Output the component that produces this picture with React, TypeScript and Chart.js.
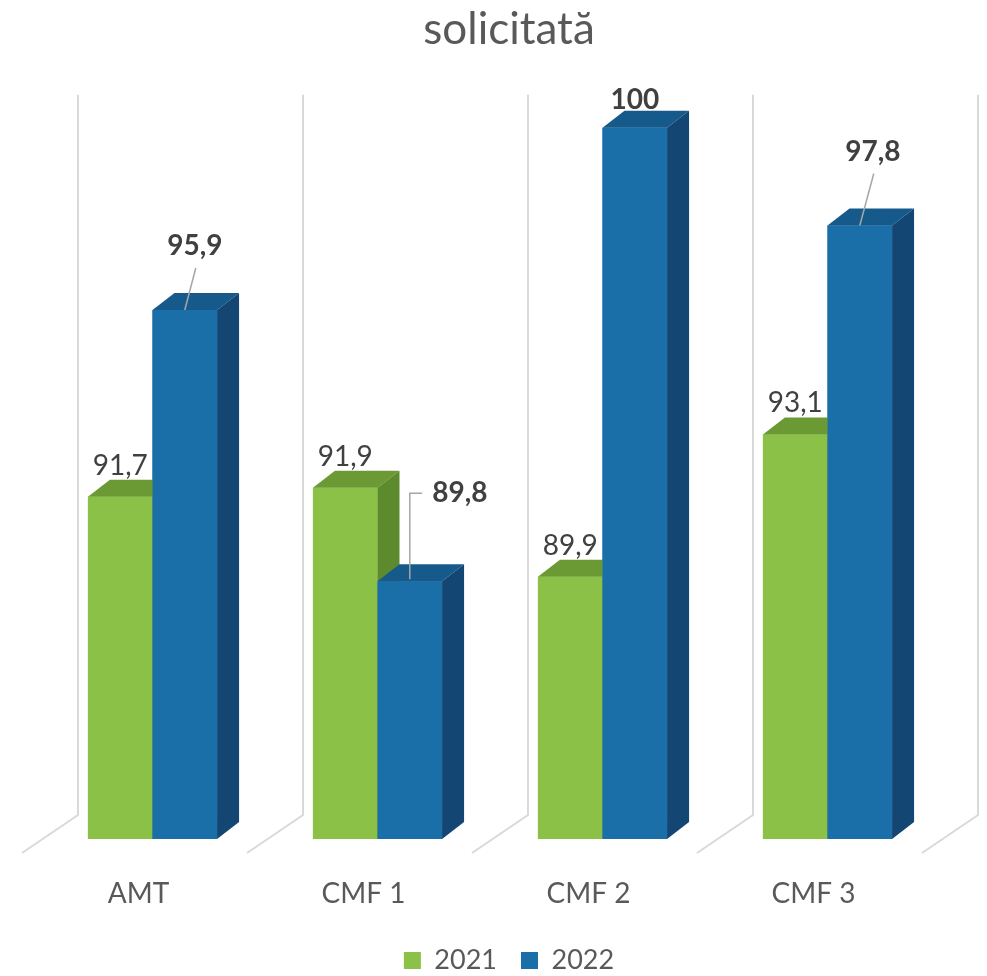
import React, { useEffect, useRef } from "react";
import { Chart, registerables } from "chart.js";

Chart.register(...registerables);

// ---- data ----
const categories = ["AMT", "CMF 1", "CMF 2", "CMF 3"];
const seriesNames = ["2021", "2022"];
const values2021 = [91.7, 91.9, 89.9, 93.1];
const values2022 = [95.9, 89.8, 100, 97.8];
const yMin = 84;
const yMax = 100.2;

// ---- style ----
const FONT = "Lato, 'Open Sans', sans-serif";
const FRONT = ["#8BC147", "#1B6FA8"];
const TOP = ["#6B9A35", "#165A8C"];
const SIDE = ["#5C8A2C", "#134672"];
const DEPTH = { dx: 22, dy: -17 };
const WALL = { backDx: 38, backDy: -24, frontDx: -18, frontDy: 14 };
// label placement for the 2022 series (relative to the front-top centre of each bar)
const LABEL22 = [
  { dx: 10, dy: -64, leader: "line" },
  { dx: 50, dy: -88, leader: "elbow" },
  { dx: 0, dy: -28, leader: "none" },
  { dx: 13, dy: -74, leader: "line" },
];

const fmt = (v: number) => String(v).replace(".", ",");

const poly = (ctx: CanvasRenderingContext2D, pts: number[][], fill: string) => {
  ctx.beginPath();
  ctx.moveTo(pts[0][0], pts[0][1]);
  for (let i = 1; i < pts.length; i++) ctx.lineTo(pts[i][0], pts[i][1]);
  ctx.closePath();
  ctx.fillStyle = fill;
  ctx.fill();
};

const threeD = {
  id: "threeD",
  beforeDatasetsDraw(chart: any) {
    const { ctx, chartArea } = chart;
    const x = chart.scales.x;
    const n = categories.length;
    const step = x.getPixelForValue(1) - x.getPixelForValue(0);
    ctx.save();
    ctx.strokeStyle = "#D9D9D9";
    ctx.lineWidth = 2;
    for (let i = 0; i <= n; i++) {
      const xb = x.getPixelForValue(0) - step / 2 + i * step;
      ctx.beginPath();
      ctx.moveTo(xb + WALL.backDx, chartArea.top + WALL.backDy);
      ctx.lineTo(xb + WALL.backDx, chartArea.bottom + WALL.backDy);
      ctx.lineTo(xb + WALL.frontDx, chartArea.bottom + WALL.frontDy);
      ctx.stroke();
    }
    ctx.restore();
  },
  afterDatasetsDraw(chart: any) {
    const { ctx, chartArea } = chart;
    ctx.save();
    // 3D boxes, drawn series by series (front, top, side) so that later series overlap earlier ones
    [0, 1].forEach((i) => {
      chart.getDatasetMeta(i).data.forEach((bar: any) => {
        const { x, y, base, width } = bar.getProps(["x", "y", "base", "width"], true);
        const b = Math.min(base, chartArea.bottom);
        const l = x - width / 2;
        const r = x + width / 2;
        poly(ctx, [[l, y], [r, y], [r, b], [l, b]], FRONT[i]);
        poly(ctx, [[l, y], [l + DEPTH.dx, y + DEPTH.dy], [r + DEPTH.dx, y + DEPTH.dy], [r, y]], TOP[i]);
        poly(ctx, [[r, y], [r + DEPTH.dx, y + DEPTH.dy], [r + DEPTH.dx, b + DEPTH.dy], [r, b]], SIDE[i]);
      });
    });

    ctx.textAlign = "center";
    ctx.textBaseline = "middle";
    // 2021 labels
    const m0 = chart.getDatasetMeta(0);
    ctx.fillStyle = "#404040";
    ctx.font = `normal 28px ${FONT}`;
    m0.data.forEach((bar: any, j: number) => {
      ctx.fillText(fmt(values2021[j]), bar.x, bar.y - 31);
    });
    // 2022 labels
    const m1 = chart.getDatasetMeta(1);
    ctx.font = `bold 28px ${FONT}`;
    m1.data.forEach((bar: any, j: number) => {
      const p = LABEL22[j];
      const lx = bar.x + p.dx;
      const ly = bar.y + p.dy;
      const text = fmt(values2022[j]);
      const w = ctx.measureText(text).width;
      ctx.strokeStyle = "#A6A6A6";
      ctx.lineWidth = 1.5;
      if (p.leader === "line") {
        ctx.beginPath();
        ctx.moveTo(lx + 1, ly + 22);
        ctx.lineTo(bar.x, bar.y);
        ctx.stroke();
      } else if (p.leader === "elbow") {
        ctx.beginPath();
        ctx.moveTo(bar.x, bar.y - 2);
        ctx.lineTo(bar.x, ly);
        ctx.lineTo(lx - w / 2 - 10, ly);
        ctx.stroke();
      }
      ctx.fillStyle = "#404040";
      ctx.fillText(text, lx, ly);
    });
    ctx.restore();
  },
};

export default function App() {
  const ref = useRef<HTMLCanvasElement | null>(null);
  useEffect(() => {
    if (!ref.current) return;
    const chart = new Chart(ref.current, {
      type: "bar",
      data: {
        labels: categories,
        datasets: [
          { label: seriesNames[0], data: values2021, backgroundColor: FRONT[0], borderWidth: 0 },
          { label: seriesNames[1], data: values2022, backgroundColor: FRONT[1], borderWidth: 0 },
        ],
      },
      options: {
        responsive: false,
        animation: false,
        events: [],
        layout: { padding: { left: 40, right: 9, top: 0, bottom: -8 } },
        datasets: { bar: { categoryPercentage: 0.574, barPercentage: 1 } },
        scales: {
          x: {
            grid: { display: false },
            border: { display: false },
            ticks: {
              color: "#595959",
              font: { family: FONT, size: 28 },
              padding: 30,
              labelOffset: -14,
              maxRotation: 0,
            },
            afterFit: (s: any) => {
              s.height = 84;
            },
          },
          y: {
            position: "right",
            min: yMin,
            max: yMax,
            grid: { display: false },
            border: { display: false },
            ticks: { display: false },
            afterFit: (s: any) => {
              s.width = 38;
            },
          },
        },
        plugins: {
          title: {
            display: true,
            text: "solicitată",
            color: "#595959",
            font: { family: FONT, size: 44, weight: "normal" },
            padding: { top: 3, bottom: 63 },
          },
          legend: {
            position: "bottom",
            labels: {
              color: "#595959",
              font: { family: FONT, size: 27 },
              boxWidth: 17,
              boxHeight: 17,
              padding: 24,
            },
          },
          tooltip: { enabled: false },
        },
      },
      plugins: [threeD],
    });
    return () => chart.destroy();
  }, []);
  return (
    <div style={{ position: "absolute", left: 0, top: 0, width: 987, height: 976, background: "#fff", overflow: "hidden" }}>
      <canvas ref={ref} width={987} height={976} style={{ display: "block" }} />
    </div>
  );
}
